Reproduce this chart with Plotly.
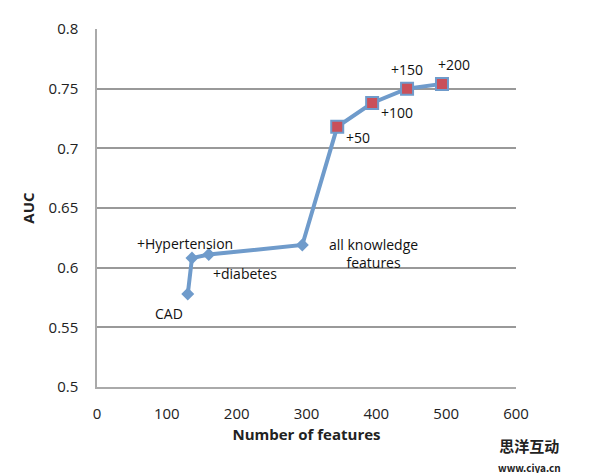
import plotly.graph_objects as go

features = [130, 136, 160, 294, 344, 394, 444, 494]
auc = [0.578, 0.608, 0.611, 0.619, 0.718, 0.738, 0.750, 0.754]
labels = ["CAD", "+Hypertension", "+diabetes", "all knowledge<br>features", "+50", "+100", "+150", "+200"]
x_ticks = [0, 100, 200, 300, 400, 500, 600]
y_ticks = [0.5, 0.55, 0.6, 0.65, 0.7, 0.75, 0.8]

line_color = "#6f9bcb"
font = "Open Sans, Liberation Sans, sans-serif"

fig = go.Figure()
fig.add_trace(go.Scatter(x=features, y=auc, mode="lines",
                         line=dict(color=line_color, width=4), showlegend=False))
fig.add_trace(go.Scatter(x=features[:4], y=auc[:4], mode="markers",
                         marker=dict(symbol="diamond", size=10, color=line_color),
                         showlegend=False))
fig.add_trace(go.Scatter(x=features[4:], y=auc[4:], mode="markers",
                         marker=dict(symbol="square", size=12, color="#c9505a",
                                     line=dict(color=line_color, width=2)),
                         showlegend=False))

# label offsets (pixels) relative to points
offsets = [
    (-19, -20, "center"),
    (-7, 15, "center"),
    (36, -19, "center"),
    (25, -9, "left"),
    (7, -11, "left"),
    (7, -10, "left"),
    (0, 19, "center"),
    (12, 19, "center"),
]
for (x, y, t), (dx, dy, anc) in zip(zip(features, auc, labels), offsets):
    fig.add_annotation(x=x, y=y, text=t, showarrow=False, xshift=dx, yshift=dy,
                       xanchor=anc, yanchor="middle",
                       font=dict(size=14, color="#111", family=font),
                       align="center")

fig.add_annotation(xref="paper", yref="paper", x=1.033, y=-0.19,
                   text="<b>思洋互动</b><br><b><span style='font-size:10px'>www.ciya.cn</span></b>",
                   showarrow=False, xanchor="center", yanchor="middle", align="center",
                   font=dict(size=15, color="#222", family="Noto Sans CJK SC"))

fig.update_layout(
    width=578, height=465,
    margin=dict(l=89, r=70, t=21, b=86, autoexpand=False),
    plot_bgcolor="white", paper_bgcolor="white",
    font=dict(family=font, size=15, color="#222"),
    xaxis=dict(range=[0, 600], tickvals=x_ticks, showgrid=False, zeroline=False,
               showline=True, linecolor="#aaa", linewidth=1.5, ticks="",
               automargin=False, ticklabelstandoff=12,
               title=dict(text="<b>Number of features</b>", font=dict(size=15), standoff=8)),
    yaxis=dict(range=[0.5, 0.8], tickvals=y_ticks, showgrid=True, gridcolor="#999",
               gridwidth=1.5, zeroline=False, showline=True, linecolor="#aaa",
               linewidth=1.5, ticks="", automargin=False, ticklabelstandoff=14,
               title=dict(text="<b>AUC</b>", font=dict(size=15), standoff=10)),
)

fig.write_html("out.html")
